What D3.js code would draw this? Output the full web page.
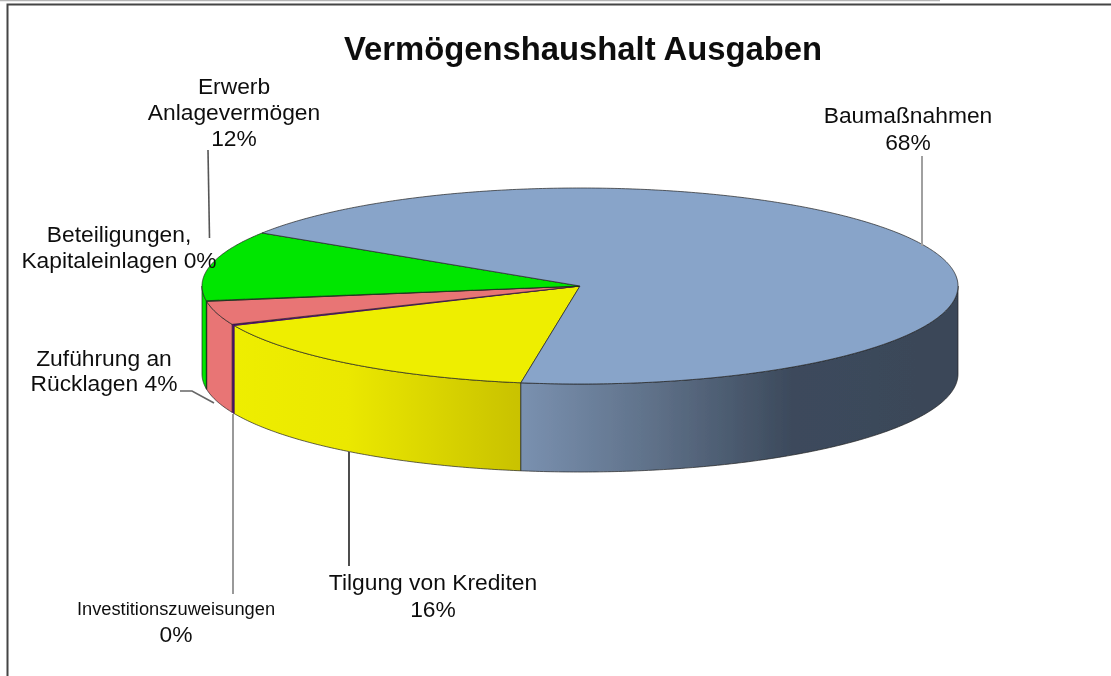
<!DOCTYPE html>
<html><head><meta charset="utf-8">
<script src="https://cdn.jsdelivr.net/npm/d3@7/dist/d3.min.js"></script>
<style>html,body{margin:0;padding:0;background:#fff}svg{display:block}text{font-family:"Liberation Sans",Arial,sans-serif;fill:#111}</style>
</head><body><svg id="c" width="1111" height="676"></svg>
<script>
const categories=["Baumaßnahmen","Tilgung von Krediten","Investitionszuweisungen","Zuführung an Rücklagen","Beteiligungen, Kapitaleinlagen","Erwerb Anlagevermögen"];
const shares=[68.4,15.9,0.2,3.9,0.1,11.5];
const topColors=["#88a4c9","#eeee00","#4a0a6e","#e87474","#00e600","#00e600"];
const title="Vermögenshaushalt Ausgaben";

const W=1111,H=676,CX=580,CY=286,RX=378,RY=98,DEPTH=88;
const START=99*Math.PI/180;
const pct=v=>Math.round(v)+"%";
const svg=d3.select("#c").attr("viewBox",[0,0,W,H]);
const defs=svg.append("defs");
defs.append("filter").attr("id","soft").attr("x",0).attr("y",0).attr("width",1).attr("height",1)
  .attr("filterUnits","objectBoundingBox").append("feGaussianBlur").attr("stdDeviation",0.45);
const sx=d3.scaleLinear([-1,1],[CX-RX,CX+RX]);
const sy=d3.scaleLinear([-1,1],[CY-RY,CY+RY]);

const rows=categories.map((c,i)=>({c,v:shares[i],col:topColors[i],i}));
const order=[1,2,3,4,5,0].map(i=>rows[i]);
const arcs=d3.pie().sort(null).value(d=>d.v).startAngle(START).endAngle(START+2*Math.PI)(order);

function rim(a0,a1,dy=0){
  const n=Math.max(2,Math.ceil((a1-a0)/0.01)),p=[];
  for(let k=0;k<=n;k++){const t=a0+(a1-a0)*k/n;p.push([sx(Math.cos(t)),sy(Math.sin(t))+dy]);}
  return p;
}
const ln=d3.line();
const sideGrad={
 0:{x1:520,x2:958,stops:[[0,"#7a91b0"],[0.3,"#5f7189"],[0.62,"#3c4a5c"],[1,"#3a4658"]]},
 1:{x1:232,x2:520,stops:[[0,"#eeee00"],[0.4,"#ebe800"],[1,"#c9c200"]]}
};
Object.entries(sideGrad).forEach(([k,g])=>{
  const lg=defs.append("linearGradient").attr("id","g"+k).attr("gradientUnits","userSpaceOnUse")
    .attr("x1",g.x1).attr("x2",g.x2).attr("y1",0).attr("y2",0);
  g.stops.forEach(s=>lg.append("stop").attr("offset",s[0]).attr("stop-color",s[1]));
});

const root=svg.append("g").attr("filter","url(#soft)");
root.append("rect").attr("width",W).attr("height",H).attr("fill","#fff");
root.append("path").attr("d","M940,0.5H0").attr("stroke","#b5b5b5").attr("fill","none").attr("stroke-width",1.5);
root.append("path").attr("d","M7.5,676V4.5H1111").attr("stroke","#444").attr("fill","none").attr("stroke-width",2);

const g=root.append("g");
const sides=[];
arcs.forEach(a=>{
  [[a.startAngle,a.endAngle],[a.startAngle-2*Math.PI,a.endAngle-2*Math.PI]].forEach(([s,e])=>{
    const lo=Math.max(s,0),hi=Math.min(e,Math.PI);
    if(hi>lo) sides.push({a,lo,hi});
  });
});
sides.forEach(({a,lo,hi})=>{
  const top=rim(lo,hi),bot=rim(lo,hi,DEPTH).reverse();
  const fill=a.data.i===0?"url(#g0)":a.data.i===1?"url(#g1)":a.data.col;
  g.append("path").attr("d",ln(top.concat(bot))+"Z").attr("fill",fill).attr("stroke",a.data.i===2?a.data.col:"#222").attr("stroke-width",.7);
});
arcs.forEach(a=>{
  const p=[[sx(0),sy(0)]].concat(rim(a.startAngle,a.endAngle));
  g.append("path").attr("d",ln(p)+"Z").attr("fill",a.data.col).attr("stroke",a.data.i===2?a.data.col:"#222").attr("stroke-width",.7).attr("stroke-linejoin","round");
});

const leaders=[
 {d:"M922,156V246",c:"#a0a0a0",w:2},
 {d:"M208,150L209.500,238",c:"#555",w:1.600},
 {d:"M180,391H192L214,403",c:"#666",w:1.600},
 {d:"M233,414V594",c:"#999",w:2},
 {d:"M349,452V566",c:"#222",w:1.600}
];
leaders.forEach(l=>root.append("path").attr("d",l.d).attr("fill","none").attr("stroke",l.c).attr("stroke-width",l.w));

root.append("text").attr("x",583).attr("y",60).attr("text-anchor","middle").attr("font-weight","bold").attr("font-size",32.8).text(title);
const labels=[
 {x:908,y:[123,150],t:[categories[0],pct(shares[0])],ss:[22.8,22.8]},
 {x:433,y:[590,617],t:["Tilgung von Krediten",pct(shares[1])],ss:[22.8,22.8]},
 {x:176,y:[615,642],t:[categories[2],pct(shares[2])],ss:[18.3,22.8]},
 {x:104,y:[366,391],t:["Zuführung an","Rücklagen "+pct(shares[3])],ss:[22.8,22.8]},
 {x:119,y:[242,268],t:["Beteiligungen,","Kapitaleinlagen "+pct(shares[4])],ss:[22.8,22.8]},
 {x:234,y:[94,120,146],t:["Erwerb","Anlagevermögen",pct(shares[5])],ss:[22.8,22.8,22.8]}
];
labels.forEach(l=>l.t.forEach((t,i)=>root.append("text").attr("x",l.x).attr("y",l.y[i]).attr("text-anchor","middle")
  .attr("font-size",l.ss[i]).text(t)));
</script></body></html>
